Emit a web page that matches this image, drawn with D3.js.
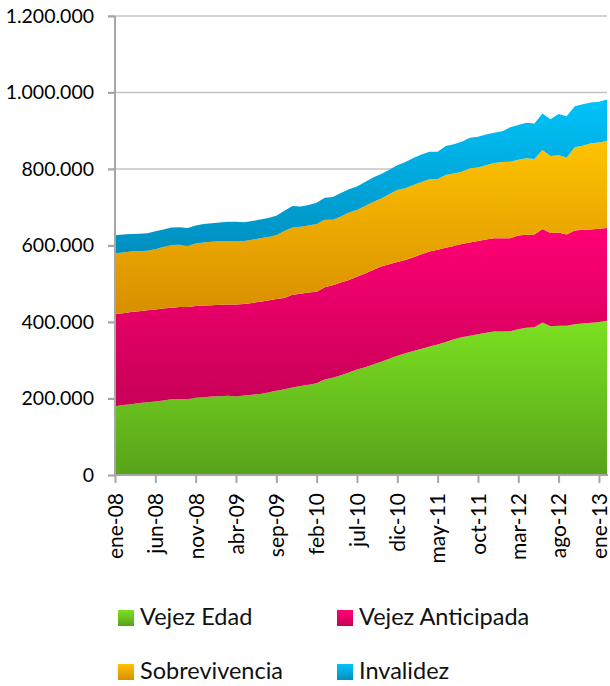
<!DOCTYPE html>
<html>
<head>
<meta charset="utf-8">
<script src="https://cdn.jsdelivr.net/npm/d3@7"></script>
<style>
  body { margin: 0; background: #fff; }
  svg { font-family: Lato, "Open Sans", sans-serif; }
</style>
</head>
<body>
<svg id="chart" width="610" height="686"></svg>
<script>
// months from ene-08 to feb-13
var monthNames = ['ene', 'feb', 'mar', 'abr', 'may', 'jun', 'jul', 'ago', 'sep', 'oct', 'nov', 'dic'];
var startYear = 2008;
var monthCount = 62;

var vejezEdad = [
  180, 183, 185, 188, 190, 192, 195, 198, 199, 198, 202, 203, 205, 206, 207, 205,
  208, 210, 212, 216, 220, 224, 229, 233, 236, 240, 250, 254, 261, 268, 276, 282,
  289, 296, 304, 312, 318, 324, 330, 336, 341, 348, 355, 360, 364, 368, 372, 375,
  375, 376, 381, 385, 386, 399, 389, 390, 390, 394, 396, 398, 400, 403
];
var vejezAnticipada = [
  241, 240, 241, 240, 241, 241, 240, 239, 240, 241, 240, 240, 239, 239, 239, 241,
  239, 240, 241, 240, 240, 239, 242, 241, 241, 239, 241, 242, 242, 242, 242, 245,
  247, 249, 247, 245, 244, 245, 247, 248, 248, 246, 244, 244, 244, 244, 244, 244,
  244, 243, 245, 243, 243, 244, 244, 244, 239, 245, 245, 244, 244, 243
];
var sobrevivencia = [
  159, 159, 158, 157, 155, 157, 161, 164, 163, 160, 163, 165, 166, 166, 166, 166,
  165, 165, 166, 166, 167, 175, 176, 175, 175, 177, 176, 171, 173, 176, 175, 176,
  178, 178, 183, 188, 188, 189, 189, 189, 185, 190, 189, 189, 194, 192, 194, 197,
  199, 200, 198, 200, 197, 207, 201, 202, 201, 218, 220, 225, 225, 227
];
var invalidez = [
  47, 47, 46, 46, 46, 47, 46, 46, 46, 47, 47, 48, 48, 49, 50, 50,
  49, 49, 49, 50, 51, 53, 56, 53, 54, 56, 58, 60, 61, 61, 61, 63,
  64, 64, 64, 65, 68, 71, 72, 72, 71, 76, 77, 78, 80, 80, 80, 79,
  81, 90, 91, 93, 93, 95, 96, 108, 108, 107, 108, 107, 107, 109
];

var seriesNames = ['Vejez Edad', 'Vejez Anticipada', 'Sobrevivencia', 'Invalidez'];
var seriesKeys = ['edad', 'anticipada', 'sobrevivencia', 'invalidez'];
var yTicks = [0, 200000, 400000, 600000, 800000, 1000000, 1200000];

// top / bottom colours of each gradient
var colors = {
  edad: ['#7be021', '#58a31b'],
  anticipada: ['#ff0074', '#c70058'],
  sobrevivencia: ['#ffc300', '#d88f00'],
  invalidez: ['#00c3fa', '#008fbf'],
};

function monthLabel(i) {
  var y = startYear + Math.floor(i / 12);
  return monthNames[i % 12] + '-' + String(y).slice(2);
}

function buildRows() {
  var rows = [];
  for (var i = 0; i < monthCount; i++) {
    rows.push({
      i: i,
      label: monthLabel(i),
      edad: vejezEdad[i] * 1000,
      anticipada: vejezAnticipada[i] * 1000,
      sobrevivencia: sobrevivencia[i] * 1000,
      invalidez: invalidez[i] * 1000,
    });
  }
  return rows;
}

function renderChart(data) {
  var svg = d3.select('#chart'),
    left = 115,
    right = 607,
    top = 16,
    bottom = 475;

  var x = d3.scaleLinear().domain([0, monthCount - 1]).range([left, right]);
  var y = d3.scaleLinear().domain([0, 1200000]).range([bottom, top]);

  var locale = d3.formatLocale({ decimal: ',', thousands: '.', grouping: [3], currency: ['$', ''] });
  var fmt = locale.format(',');

  // gradients
  var defs = svg.append('defs');
  seriesKeys.forEach(function (k) {
    var grad = defs.append('linearGradient')
      .attr('id', 'grad-' + k)
      .attr('x1', 0).attr('y1', 0).attr('x2', 0).attr('y2', 1);
    grad.append('stop').attr('offset', '0%').attr('stop-color', colors[k][0]);
    grad.append('stop').attr('offset', '100%').attr('stop-color', colors[k][1]);
  });

  // gridlines
  svg.append('g')
    .selectAll('line')
    .data(yTicks.slice(1))
    .join('line')
    .attr('x1', left - 7)
    .attr('x2', right)
    .attr('y1', function (d) { return y(d); })
    .attr('y2', function (d) { return y(d); })
    .attr('stroke', '#c4c4c4')
    .attr('stroke-width', 1.5);

  var stack = d3.stack().keys(seriesKeys);
  var layers = stack(data);

  var area = d3.area()
    .x(function (d) { return x(d.data.i); })
    .y0(function (d) { return y(d[0]); })
    .y1(function (d) { return y(d[1]); });

  svg.append('g')
    .selectAll('path')
    .data(layers)
    .join('path')
    .attr('fill', function (d) { return 'url(#grad-' + d.key + ')'; })
    .attr('d', area);

  // Y axis
  var yAxis = svg.append('g')
    .attr('transform', 'translate(' + left + ',0)')
    .call(d3.axisLeft(y).tickValues(yTicks).tickFormat(fmt).tickSize(7).tickPadding(14));
  yAxis.select('.domain').attr('stroke', '#a6a6a6').attr('stroke-width', 2)
    .attr('d', 'M0,' + top + 'V' + bottom);
  yAxis.selectAll('.tick line').attr('stroke', '#a6a6a6').attr('stroke-width', 2);
  yAxis.selectAll('text').attr('font-size', 19.5).attr('fill', '#000')
    .attr('font-family', 'Lato, sans-serif');

  // X axis
  var xTickIdx = d3.range(0, monthCount, 5);
  var xAxis = svg.append('g')
    .attr('transform', 'translate(0,' + bottom + ')')
    .call(d3.axisBottom(x).tickValues(xTickIdx).tickFormat(function (i) { return data[i].label; })
      .tickSize(8).tickSizeOuter(0));
  xAxis.select('.domain').attr('stroke', '#a6a6a6').attr('stroke-width', 2)
    .attr('d', 'M' + left + ',0H' + (right + 1));
  xAxis.selectAll('.tick line').attr('stroke', '#a6a6a6').attr('stroke-width', 2);
  xAxis.selectAll('text')
    .attr('font-size', 21)
    .attr('fill', '#000')
    .attr('font-family', 'Lato, sans-serif')
    .attr('text-anchor', 'end')
    .attr('transform', 'rotate(-90)')
    .attr('x', -18)
    .attr('y', 0)
    .attr('dy', '0.35em');

  // legend
  var legendPos = [
    { x: 118, y: 610 },
    { x: 337, y: 610 },
    { x: 118, y: 664 },
    { x: 337, y: 664 },
  ];
  var legend = svg.append('g')
    .selectAll('g')
    .data(seriesKeys)
    .join('g')
    .attr('transform', function (d, i) { return 'translate(' + legendPos[i].x + ',' + legendPos[i].y + ')'; });
  legend.append('rect')
    .attr('width', 16)
    .attr('height', 16)
    .attr('fill', function (d) { return 'url(#grad-' + d + ')'; });
  legend.append('text')
    .attr('x', 22)
    .attr('y', 7)
    .attr('dy', '0.36em')
    .attr('font-size', 23.5)
    .attr('fill', '#111')
    .text(function (d, i) { return seriesNames[i]; });
}

renderChart(buildRows());
</script>
</body>
</html>
